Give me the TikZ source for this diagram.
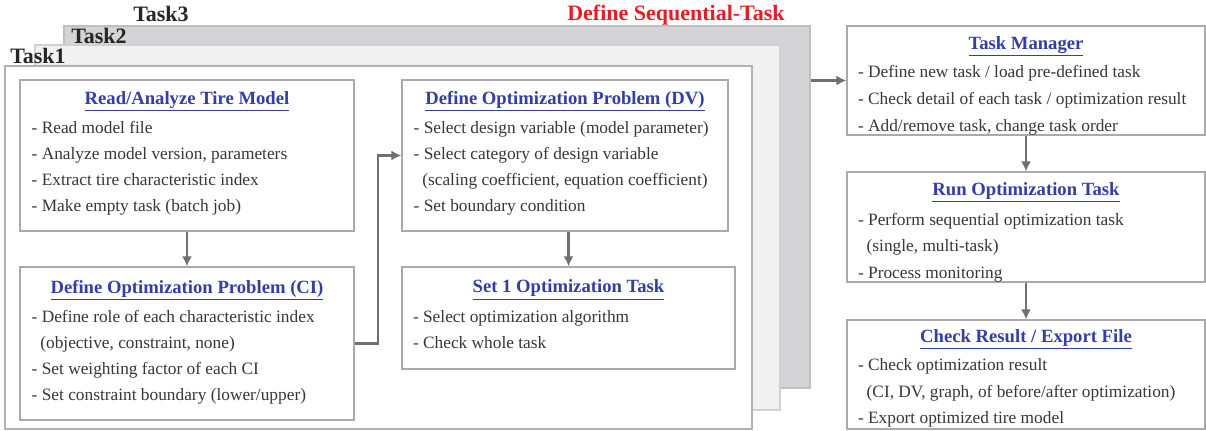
\documentclass[tikz,border=0pt]{standalone}
\usepackage{fontspec}
\setmainfont{Liberation Serif}
\usepackage{tikz}
\usetikzlibrary{calc,positioning,fit,arrows.meta}

\definecolor{headblue}{RGB}{52,62,165}
\definecolor{bodygray}{RGB}{55,55,55}
\definecolor{linegray}{RGB}{170,170,170}
\definecolor{arrowgray}{RGB}{112,112,112}
\definecolor{backgray}{RGB}{212,212,214}
\definecolor{midgray}{RGB}{241,241,241}
\definecolor{titlered}{RGB}{228,30,36}

\tikzset{
  box/.style={draw=linegray, line width=0.9pt, fill=white, inner sep=0pt},
  head/.style={font=\fontsize{14}{16}\selectfont\bfseries, text=headblue, inner sep=0pt},
  body/.style={font=\fontsize{13}{19.5}\selectfont, text=bodygray, align=left, inner sep=0pt},
  wbody/.style={body, font=\fontsize{13}{20}\selectfont},
  flow/.style={draw=arrowgray, line width=2.2pt, -{Latex[length=7.5pt,width=7.5pt]}},
  tasklabel/.style={font=\fontsize{16.5}{18}\selectfont\bfseries, text=black!85, inner sep=0pt},
}

\begin{document}
\begin{tikzpicture}[x=0.75pt,y=-0.75pt]
    \useasboundingbox (0,0) rectangle (1206,430);

    \node[draw=black!25, line width=0.9pt, fill=backgray, inner sep=0pt, fit={(64,26) (810,388)}] (task3) {};
    \node[draw=black!18, line width=0.9pt, fill=midgray, inner sep=0pt, fit={(35,45) (780,410)}] (task2) {};
    \node[box, draw=black!30, fit={(5,66) (752,429)}] (task1) {};
    \node[tasklabel, anchor=base west] (lbl3) at (133,21) {Task3};
    \node[tasklabel, anchor=base west] (lbl2) at (71,43) {Task2};
    \node[tasklabel, anchor=base west] (lbl1) at (10,63) {Task1};
    \node[tasklabel, text=titlered, anchor=base west] (seqtitle) at (567,20) {Define Sequential-Task};

    \node[box, fit={(20,80) (354,231)}] (read) {};
    \node[head, below=9pt of read.north] (readhead) {\underline{Read/Analyze Tire Model}};
    \node[body, below right=31.5pt and 9pt of read.north west] (readbody) {- Read model file\\- Analyze model version, parameters\\- Extract tire characteristic index\\- Make empty task (batch job)};

    \node[box, fit={(20,267) (354,420)}] (ci) {};
    \node[head, below=10pt of ci.north] (cihead) {\underline{Define Optimization Problem (CI)}};
    \node[body, below right=33pt and 9pt of ci.north west] (cibody) {- Define role of each characteristic index\\\hspace*{0.5em}(objective, constraint, none)\\- Set weighting factor of each CI\\- Set constraint boundary (lower/upper)};

    \node[box, fit={(402,80) (728,231)}] (dv) {};
    \node[head, below=9pt of dv.north] (dvhead) {\underline{Define Optimization Problem (DV)}};
    \node[body, below right=31.5pt and 9pt of dv.north west] (dvbody) {- Select design variable (model parameter)\\- Select category of design variable\\\hspace*{0.5em}(scaling coefficient, equation coefficient)\\- Set boundary condition};

    \node[box, fit={(402,267) (735,369)}] (set1) {};
    \node[head, below=10pt of set1.north] (set1head) {\underline{Set 1 Optimization Task}};
    \node[body, below right=32.5pt and 8.5pt of set1.north west] (set1body) {- Select optimization algorithm\\- Check whole task};

    \node[box, fit={(847,26) (1205,135)}] (tm) {};
    \node[head, below=8pt of tm.north] (tmhead) {\underline{Task Manager}};
    \node[wbody, below right=30pt and 8.5pt of tm.north west] (tmbody) {- Define new task / load pre-defined task\\- Check detail of each task / optimization result\\- Add/remove task, change task order};

    \node[box, fit={(847,172) (1205,282)}] (run) {};
    \node[head, below=8pt of run.north] (runhead) {\underline{Run Optimization Task}};
    \node[wbody, below right=31pt and 8.5pt of run.north west] (runbody) {- Perform sequential optimization task\\\hspace*{0.5em}(single, multi-task)\\- Process monitoring};

    \node[box, fit={(847,320) (1205,429)}] (check) {};
    \node[head, below=7.5pt of check.north] (checkhead) {\underline{Check Result / Export File}};
    \node[wbody, below right=29pt and 8.5pt of check.north west] (checkbody) {- Check optimization result\\\hspace*{0.5em}(CI, DV, graph, of before/after optimization)\\- Export optimized tire model};

    \draw[flow] (read.south) -- (ci.north);
    \draw[flow] (ci.east) -| ($(ci.east)!.5!(dv.west)$) |- (dv.west);
    \draw[flow] (dv.south -| set1.north) -- (set1.north);
    \draw[flow] (task3.east |- tm.west) -- (tm.west);
    \draw[flow] (tm.south) -- (run.north);
    \draw[flow] (run.south) -- (check.north);
\end{tikzpicture}
\end{document}
